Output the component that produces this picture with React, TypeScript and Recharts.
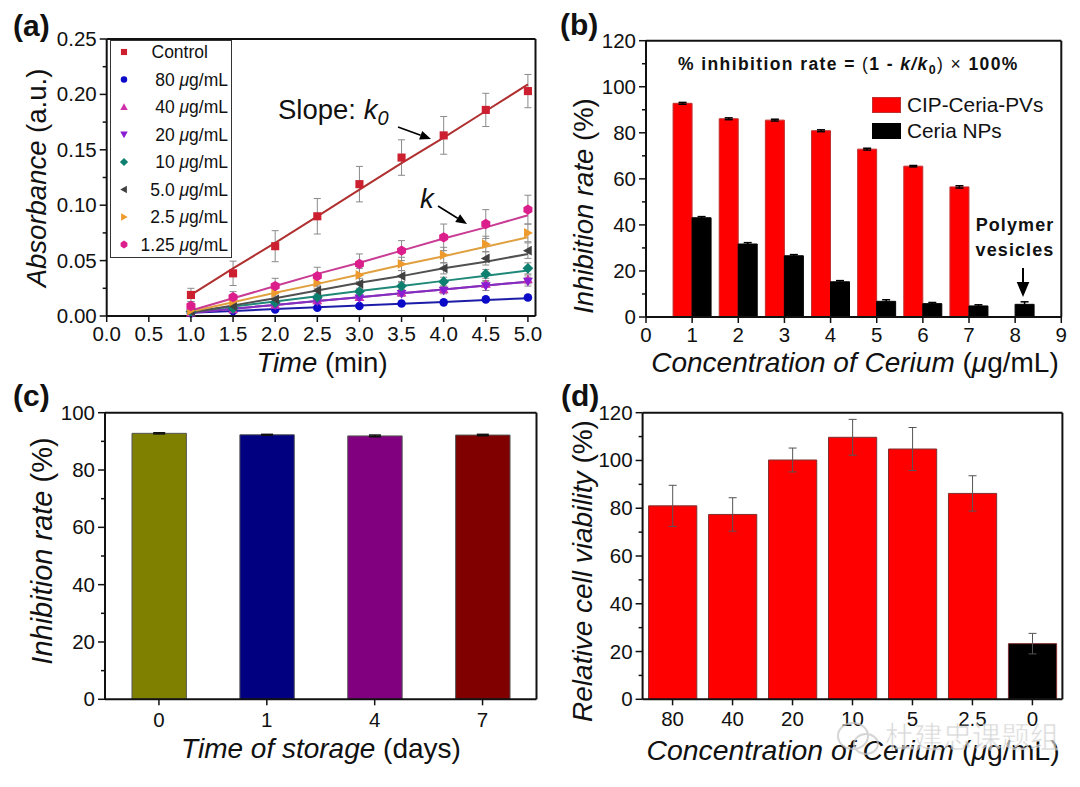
import React from "react";
import { ComposedChart, BarChart, Bar, Line, XAxis, YAxis, ErrorBar, Legend, Cell } from "recharts";

const FONT = "'Liberation Sans', Arial, sans-serif";
const AXIS = "#111";

// ---------- Panel (a)
const times = [1, 1.5, 2, 2.5, 3, 3.5, 4, 4.5, 5];
const control = [0.019, 0.0385, 0.063, 0.09, 0.119, 0.143, 0.163, 0.186, 0.203];
const controlErr = [0.006, 0.011, 0.014, 0.016, 0.016, 0.016, 0.017, 0.015, 0.015];
const controlFit = [0.019, 0.043, 0.066, 0.09, 0.114, 0.138, 0.161, 0.185, 0.209];
const c80 = [0.0025, 0.0045, 0.0058, 0.0075, 0.009, 0.0112, 0.0123, 0.015, 0.0167];
const c80Err = [0.001, 0.001, 0.001, 0.001, 0.001, 0.001, 0.001, 0.001, 0.002];
const c80Fit = [0.003, 0.0046, 0.0063, 0.008, 0.0095, 0.011, 0.0127, 0.0144, 0.016];
const c40 = [0.003, 0.006, 0.01, 0.014, 0.017, 0.021, 0.024, 0.029, 0.033];
const c40Err = [0.001, 0.002, 0.002, 0.002, 0.002, 0.003, 0.003, 0.003, 0.004];
const c40Fit = [0.003, 0.0065, 0.01, 0.0135, 0.017, 0.0205, 0.024, 0.0275, 0.031];
const c20 = [0.003, 0.0055, 0.0095, 0.013, 0.016, 0.02, 0.023, 0.027, 0.031];
const c20Err = [0.001, 0.002, 0.002, 0.002, 0.002, 0.002, 0.003, 0.004, 0.004];
const c20Fit = [0.003, 0.0065, 0.01, 0.0135, 0.017, 0.0205, 0.024, 0.0275, 0.031];
const c10 = [0.004, 0.007, 0.012, 0.017, 0.022, 0.027, 0.031, 0.038, 0.043];
const c10Err = [0.001, 0.002, 0.002, 0.003, 0.003, 0.003, 0.004, 0.004, 0.005];
const c10Fit = [0.004, 0.0086, 0.013, 0.0178, 0.0225, 0.027, 0.0317, 0.0363, 0.041];
const c5 = [0.004, 0.009, 0.015, 0.023, 0.029, 0.036, 0.043, 0.052, 0.059];
const c5Err = [0.002, 0.002, 0.003, 0.004, 0.005, 0.005, 0.005, 0.006, 0.007];
const c5Fit = [0.003, 0.0096, 0.016, 0.023, 0.03, 0.036, 0.043, 0.049, 0.056];
const c25 = [0.005, 0.013, 0.021, 0.03, 0.037, 0.047, 0.055, 0.065, 0.075];
const c25Err = [0.002, 0.003, 0.004, 0.005, 0.006, 0.006, 0.007, 0.007, 0.008];
const c25Fit = [0.004, 0.0125, 0.021, 0.029, 0.0375, 0.046, 0.054, 0.0625, 0.071];
const c125 = [0.009, 0.017, 0.027, 0.036, 0.047, 0.059, 0.071, 0.083, 0.096];
const c125Err = [0.004, 0.005, 0.007, 0.008, 0.009, 0.009, 0.012, 0.013, 0.013];
const c125Fit = [0.005, 0.016, 0.027, 0.038, 0.048, 0.059, 0.07, 0.08, 0.091];

const seriesA = [
  { key: "c80", label: "80", vals: c80, errs: c80Err, fit: c80Fit, color: "#0A0AC8", line: "#1C1CA8", shape: "circle" },
  { key: "c40", label: "40", vals: c40, errs: c40Err, fit: c40Fit, color: "#D030A8", line: "#C030B0", shape: "up" },
  { key: "c20", label: "20", vals: c20, errs: c20Err, fit: c20Fit, color: "#8A1ED2", line: "#8030C0", shape: "down" },
  { key: "c10", label: "10", vals: c10, errs: c10Err, fit: c10Fit, color: "#0E8070", line: "#208878", shape: "diamond" },
  { key: "c5", label: "5.0", vals: c5, errs: c5Err, fit: c5Fit, color: "#404040", line: "#505050", shape: "left" },
  { key: "c25", label: "2.5", vals: c25, errs: c25Err, fit: c25Fit, color: "#EE9A2C", line: "#E0A040", shape: "right" },
  { key: "c125", label: "1.25", vals: c125, errs: c125Err, fit: c125Fit, color: "#DC1E8C", line: "#C83C94", shape: "hex" },
];
const controlSeries = { key: "control", label: "Control", vals: control, errs: controlErr, fit: controlFit, color: "#CC2030", line: "#B03030", shape: "square" };
const allA = [controlSeries, ...seriesA];
const dataA = times.map((t, i) => {
  const row: any = { time: t };
  allA.forEach((s) => {
    row[s.key] = s.vals[i];
    row[s.key + "Err"] = s.errs[i];
    row[s.key + "Fit"] = s.fit[i];
  });
  return row;
});
const aXTicks = [0, 0.5, 1, 1.5, 2, 2.5, 3, 3.5, 4, 4.5, 5];
const aYTicks = [0, 0.025, 0.05, 0.075, 0.1, 0.125, 0.15, 0.175, 0.2, 0.225, 0.25];
const aYMajor = [0, 0.05, 0.1, 0.15, 0.2, 0.25];

// ---------- Panel (b)
const bPositions = [1, 2, 3, 4, 5, 6, 7, 8];
const bCip = [92.8, 86.1, 85.5, 80.9, 72.9, 65.5, 56.5, null];
const bCipErr = [0.4, 0.4, 0.4, 0.4, 0.4, 0.3, 0.5, null];
const bNps = [43.1, 31.7, 26.6, 15.3, 6.8, 5.8, 4.8, 5.5];
const bNpsErr = [0.5, 0.6, 0.5, 0.5, 0.7, 0.5, 0.5, 1.1];
const dataB = bPositions.map((p, i) => ({ pos: p, cip: bCip[i], cipErr: bCipErr[i], nps: bNps[i], npsErr: bNpsErr[i] }));
const bXTicks = [0, 1, 2, 3, 4, 5, 6, 7, 8, 9];
const bYTicks = [0, 10, 20, 30, 40, 50, 60, 70, 80, 90, 100, 110, 120];
const bLegend = [
  { label: "CIP-Ceria-PVs", color: "#FF0000", edge: "#C03030" },
  { label: "Ceria NPs", color: "#000000", edge: "#000" },
];

// ---------- Panel (c)
const cDays = ["0", "1", "4", "7"];
const cVals = [92.8, 92.3, 91.9, 92.2];
const cErrs = [0.2, 0.15, 0.3, 0.25];
const cColors = ["#808000", "#000080", "#800080", "#800000"];
const dataC = cDays.map((d, i) => ({ day: d, v: cVals[i], e: cErrs[i] }));
const cYTicks = [0, 10, 20, 30, 40, 50, 60, 70, 80, 90, 100];

// ---------- Panel (d)
const dConc = ["80", "40", "20", "10", "5", "2.5", "0"];
const dVals = [81, 77.4, 100.2, 109.7, 104.8, 86.2, 23.3];
const dErrs = [8.6, 7, 5, 7.5, 9, 7.4, 4.3];
const dColors = ["#FF0000", "#FF0000", "#FF0000", "#FF0000", "#FF0000", "#FF0000", "#000000"];
const dataD = dConc.map((c, i) => ({ conc: c, v: dVals[i], e: dErrs[i] }));
const dYTicks = [0, 10, 20, 30, 40, 50, 60, 70, 80, 90, 100, 110, 120];

// ---------- helpers
function marker(shape: string, cx: number, cy: number, color: string, r = 4) {
  const pts = (a: number[][]) => a.map((p) => `${cx + p[0] * r},${cy + p[1] * r}`).join(" ");
  switch (shape) {
    case "square": return <rect x={cx - r * 0.9} y={cy - r * 0.9} width={r * 1.8} height={r * 1.8} fill={color} />;
    case "circle": return <circle cx={cx} cy={cy} r={r * 0.95} fill={color} />;
    case "up": return <polygon points={pts([[0, -1.1], [1.1, 0.85], [-1.1, 0.85]])} fill={color} />;
    case "down": return <polygon points={pts([[0, 1.1], [1.1, -0.85], [-1.1, -0.85]])} fill={color} />;
    case "diamond": return <polygon points={pts([[0, -1.2], [1.2, 0], [0, 1.2], [-1.2, 0]])} fill={color} />;
    case "left": return <polygon points={pts([[-1.1, 0], [0.85, -1.1], [0.85, 1.1]])} fill={color} />;
    case "right": return <polygon points={pts([[1.1, 0], [-0.85, -1.1], [-0.85, 1.1]])} fill={color} />;
    default: return <polygon points={pts([[0, -1.15], [1, -0.55], [1, 0.55], [0, 1.15], [-1, 0.55], [-1, -0.55]])} fill={color} />;
  }
}
const dotOf = (shape: string, color: string) => (p: any) => (
  <g key={p.key ?? `${p.cx}-${p.cy}`}>{marker(shape, p.cx, p.cy, color, 4.5)}</g>
);

const xTick = (fmt: (v: number | string) => string, off = 25, fs = 20.5) => (p: any) => (
  <g>
    <line x1={p.x} x2={p.x} y1={p.y} y2={p.y + 6} stroke={AXIS} strokeWidth={1.5} />
    <text x={p.x} y={p.y + off} textAnchor="middle" fontSize={fs} fontFamily={FONT} fill="#111">{fmt(p.payload.value)}</text>
  </g>
);
const yTick = (isMajor: (v: number) => boolean, fmt: (v: number) => string) => (p: any) => {
  const major = isMajor(p.payload.value);
  return (
    <g>
      <line x1={p.x} x2={p.x - (major ? 7 : 4)} y1={p.y} y2={p.y} stroke={AXIS} strokeWidth={1.5} />
      {major ? (
        <text x={p.x - 10} y={p.y + 7} textAnchor="end" fontSize={20.5} fontFamily={FONT} fill="#111">{fmt(p.payload.value)}</text>
      ) : null}
    </g>
  );
};
const even20 = (v: number) => v % 20 === 0;
const axisLine = { stroke: AXIS, strokeWidth: 2 };

function XTitle({ x, y, children, size = 27.5 }: any) {
  return <text x={x} y={y} textAnchor="middle" fontSize={size} fontFamily={FONT} fill="#111">{children}</text>;
}
function YTitle({ x, y, children, size = 27.5 }: any) {
  return <text transform={`translate(${x},${y}) rotate(-90)`} textAnchor="middle" fontSize={size} fontFamily={FONT} fill="#111">{children}</text>;
}
const It = ({ children }: any) => <tspan fontStyle="italic">{children}</tspan>;

function LegendA() {
  return (
    <svg width={122} height={218} style={{ display: "block" }}>
      <rect x={0.5} y={0.5} width={121} height={217} fill="#fff" stroke="#333" strokeWidth={1} />
      {allA.map((s, i) => {
        const cy = 12 + i * 27.5;
        return (
          <g key={s.key}>
            {marker(s.shape, 14, cy, s.color, 3.4)}
            {s.key === "control" ? (
              <text x={41.5} y={cy + 6} fontSize={17.5} fontFamily={FONT} fill="#111">{s.label}</text>
            ) : (
              <text x={118} y={cy + 6} textAnchor="end" fontSize={17.5} fontFamily={FONT} fill="#111">
                {s.label} <It>μ</It>g/mL
              </text>
            )}
          </g>
        );
      })}
    </svg>
  );
}
function LegendB() {
  return (
    <svg width={190} height={52} style={{ display: "block", overflow: "visible" }}>
      {bLegend.map((s, i) => (
        <g key={s.label}>
          <rect x={0.5} y={0.5 + i * 26} width={28} height={15} fill={s.color} stroke={s.edge} />
          <text x={35} y={15 + i * 26} fontSize={20.8} fontFamily={FONT} fill="#111">{s.label}</text>
        </g>
      ))}
    </svg>
  );
}

const panel = (l: number, t: number, w: number, h: number): React.CSSProperties => ({ position: "absolute", left: l, top: t, width: w, height: h });
const tickReset = { tickSize: 0, tickMargin: 0, tickLine: false, axisLine, interval: 0 } as const;

function PanelA() {
  return (
    <div style={panel(0, 0, 560, 393)}>
      <ComposedChart width={560} height={393} data={dataA} margin={{ top: 38, right: 23.5, bottom: 0, left: 0 }}>
        <XAxis dataKey="time" type="number" domain={[0, 5.09]} ticks={aXTicks} allowDecimals {...tickReset}
          tick={xTick((v) => Number(v).toFixed(1))} height={77}
          label={{ content: () => <XTitle x={322} y={372}><It>Time</It> (min)</XTitle> }} />
        <XAxis xAxisId="top" orientation="top" dataKey="time" type="number" domain={[0, 5.09]} height={1} tick={false} tickLine={false} axisLine={axisLine} />
        <YAxis type="number" domain={[0, 0.25]} ticks={aYTicks} width={106.7} {...tickReset}
          tick={yTick((v) => aYMajor.includes(v), (v) => v.toFixed(2))}
          label={{ content: () => <YTitle x={46} y={178}><It>Absorbance</It> (a.u.)</YTitle> }} />
        <YAxis yAxisId="right" orientation="right" type="number" domain={[0, 0.25]} width={1} tick={false} tickLine={false} axisLine={axisLine} />
        {allA.map((s) => (
          <Line key={s.key + "pts"} dataKey={s.key} stroke="none" isAnimationActive={false} dot={false} activeDot={false} legendType="none">
            <ErrorBar dataKey={s.key + "Err"} width={3.5} stroke="#8a8a8a" strokeWidth={1} />
          </Line>
        ))}
        {allA.map((s) => (
          <Line key={s.key + "fit"} dataKey={s.key + "Fit"} stroke={s.line} strokeWidth={2} dot={false} activeDot={false} isAnimationActive={false} legendType="none" />
        ))}
        {allA.map((s) => (
          <Line key={s.key + "mk"} dataKey={s.key} stroke="none" isAnimationActive={false} dot={dotOf(s.shape, s.color)} activeDot={false} legendType="none" />
        ))}
        <Legend layout="vertical" align="center" verticalAlign="middle" content={() => <LegendA />}
          wrapperStyle={{ left: 109.5, top: 40, width: 122, height: 218, margin: 0 }} />
      </ComposedChart>
    </div>
  );
}

function PanelB() {
  return (
    <div style={panel(540, 0, 540, 393)}>
      <BarChart width={540} height={393} data={dataB} barGap={0} barSize={19} margin={{ top: 39.7, right: 17.7, bottom: 0, left: 0 }}>
        <XAxis dataKey="pos" type="number" domain={[0, 9]} ticks={bXTicks} {...tickReset}
          tick={xTick((v) => String(v))} height={76}
          label={{ content: () => <XTitle x={315} y={372} size={28}><It>Concentration of Cerium</It> (<It>μ</It>g/mL)</XTitle> }} />
        <XAxis xAxisId="top" orientation="top" dataKey="pos" type="number" domain={[0, 9]} height={1} tick={false} tickLine={false} axisLine={axisLine} />
        <YAxis type="number" domain={[0, 120]} ticks={bYTicks} width={106} {...tickReset}
          tick={yTick(even20, (v) => String(v))}
          label={{ content: () => <YTitle x={53} y={206}><It>Inhibition rate</It> (%)</YTitle> }} />
        <YAxis yAxisId="right" orientation="right" type="number" domain={[0, 120]} width={1} tick={false} tickLine={false} axisLine={axisLine} />
        <Bar dataKey="cip" fill="#FF0000" stroke="#C03030" strokeWidth={1} isAnimationActive={false} legendType="none">
          <ErrorBar dataKey="cipErr" width={4} stroke="#000" strokeWidth={1.5} />
        </Bar>
        <Bar dataKey="nps" fill="#000" stroke="#000" strokeWidth={1} isAnimationActive={false} legendType="none">
          <ErrorBar dataKey="npsErr" width={4} stroke="#000" strokeWidth={1.5} />
        </Bar>
        <Legend layout="vertical" align="center" verticalAlign="middle" content={() => <LegendB />}
          wrapperStyle={{ left: 331.5, top: 97, width: 190, height: 52, margin: 0 }} />
      </BarChart>
    </div>
  );
}

function PanelC() {
  return (
    <div style={panel(0, 393, 540, 394)}>
      <BarChart width={540} height={394} data={dataC} barSize={54.4} margin={{ top: 18.7, right: 2.5, bottom: 0, left: 0 }}>
        <XAxis dataKey="day" {...tickReset} tick={xTick((v) => String(v), 28)} height={87.7}
          label={{ content: () => <XTitle x={321} y={364.7} size={28}><It>Time of storage</It> (days)</XTitle> }} />
        <XAxis xAxisId="top" orientation="top" dataKey="day" height={1} tick={false} tickLine={false} axisLine={axisLine} />
        <YAxis type="number" domain={[0, 100]} ticks={cYTicks} width={105} {...tickReset}
          tick={yTick(even20, (v) => String(v))}
          label={{ content: () => <YTitle x={52} y={158} size={29}><It>Inhibition rate</It> (%)</YTitle> }} />
        <YAxis yAxisId="right" orientation="right" type="number" domain={[0, 100]} width={1} tick={false} tickLine={false} axisLine={axisLine} />
        <Bar dataKey="v" stroke="#555" strokeWidth={1} isAnimationActive={false}>
          {cColors.map((c) => <Cell key={c} fill={c} />)}
          <ErrorBar dataKey="e" width={6} stroke="#111" strokeWidth={1.5} />
        </Bar>
      </BarChart>
    </div>
  );
}

function PanelD() {
  return (
    <div style={panel(540, 393, 540, 394)}>
      <BarChart width={540} height={394} data={dataD} barSize={48.2} margin={{ top: 18.7, right: 16.6, bottom: 0, left: 0 }}>
        <XAxis dataKey="conc" {...tickReset} tick={xTick((v) => String(v), 27)} height={87.7}
          label={{ content: () => <XTitle x={313} y={367} size={28.4}><It>Concentration of Cerium</It> (<It>μ</It>g/mL)</XTitle> }} />
        <XAxis xAxisId="top" orientation="top" dataKey="conc" height={1} tick={false} tickLine={false} axisLine={axisLine} />
        <YAxis type="number" domain={[0, 120]} ticks={dYTicks} width={102.6} {...tickReset}
          tick={yTick(even20, (v) => String(v))}
          label={{ content: () => <YTitle x={52} y={178} size={28}><It>Relative cell viability</It> (%)</YTitle> }} />
        <YAxis yAxisId="right" orientation="right" type="number" domain={[0, 120]} width={1} tick={false} tickLine={false} axisLine={axisLine} />
        <Bar dataKey="v" stroke="#803030" strokeWidth={1} isAnimationActive={false}>
          {dColors.map((c, i) => <Cell key={i} fill={c} />)}
          <ErrorBar dataKey="e" width={4} stroke="#555" strokeWidth={1} />
        </Bar>
      </BarChart>
    </div>
  );
}

function Arrow({ x1, y1, x2, y2, w = 1.6, head = 11 }: any) {
  const a = Math.atan2(y2 - y1, x2 - x1);
  const bx = x2 - head * Math.cos(a), by = y2 - head * Math.sin(a);
  const n = head * 0.42;
  const pts = `${x2},${y2} ${bx - n * Math.sin(a)},${by + n * Math.cos(a)} ${bx + n * Math.sin(a)},${by - n * Math.cos(a)}`;
  return (
    <g>
      <line x1={x1} y1={y1} x2={bx} y2={by} stroke="#000" strokeWidth={w} />
      <polygon points={pts} fill="#000" />
    </g>
  );
}

function Overlay() {
  const t = { fontFamily: FONT, fill: "#111" } as const;
  return (
    <svg width={1080} height={787} style={{ position: "absolute", left: 0, top: 0, pointerEvents: "none" }}>
      <text x={13} y={36} fontSize={30} fontWeight={700} {...t}>(a)</text>
      <text x={560} y={35} fontSize={30} fontWeight={700} {...t}>(b)</text>
      <text x={13} y={406} fontSize={30} fontWeight={700} {...t}>(c)</text>
      <text x={561} y={406} fontSize={30} fontWeight={700} {...t}>(d)</text>

      <text x={278} y={119} fontSize={27.5} {...t}>Slope: <It>k</It><tspan fontStyle="italic" fontSize={20} dy={6}>0</tspan></text>
      <Arrow x1={398} y1={127} x2={431} y2={139} />
      <text x={420} y={208} fontSize={27.5} {...t}><It>k</It></text>
      <Arrow x1={438} y1={206} x2={467} y2={224} />

      <text x={678} y={70} fontSize={17.5} fontWeight={700} letterSpacing={1.4} {...t}>
        % inhibition rate = <tspan fontWeight={400}>(</tspan>1 - <It>k/k</It><tspan fontSize={12.5} dy={4}>0</tspan><tspan dy={-4} fontWeight={400}>) ×</tspan> 100%
      </text>
      <text x={1015} y={230.5} textAnchor="middle" fontSize={18} fontWeight={700} letterSpacing={1.1} {...t}>Polymer</text>
      <text x={1015} y={255.5} textAnchor="middle" fontSize={18} fontWeight={700} letterSpacing={1.1} {...t}>vesicles</text>
      <Arrow x1={1023} y1={268} x2={1023} y2={297} w={2} head={15} />

      <g opacity={0.7}>
        <ellipse cx={853} cy={736} rx={15} ry={13} fill="none" stroke="#c4c4c4" strokeWidth={2} />
        <ellipse cx={866} cy={744} rx={12} ry={10} fill="none" stroke="#c4c4c4" strokeWidth={2} />
        <text x={885} y={748} fontSize={29} fontFamily="'Noto Sans CJK SC'" fill="#c8c8c8" stroke="#fff" strokeWidth={0.6}>杜建忠课题组</text>
      </g>
    </svg>
  );
}

export default function App() {
  return (
    <div style={{ position: "absolute", left: 0, top: 0, width: 1080, height: 787, background: "#fff", overflow: "hidden" }}>
      <PanelA />
      <PanelB />
      <PanelC />
      <PanelD />
      <Overlay />
    </div>
  );
}
